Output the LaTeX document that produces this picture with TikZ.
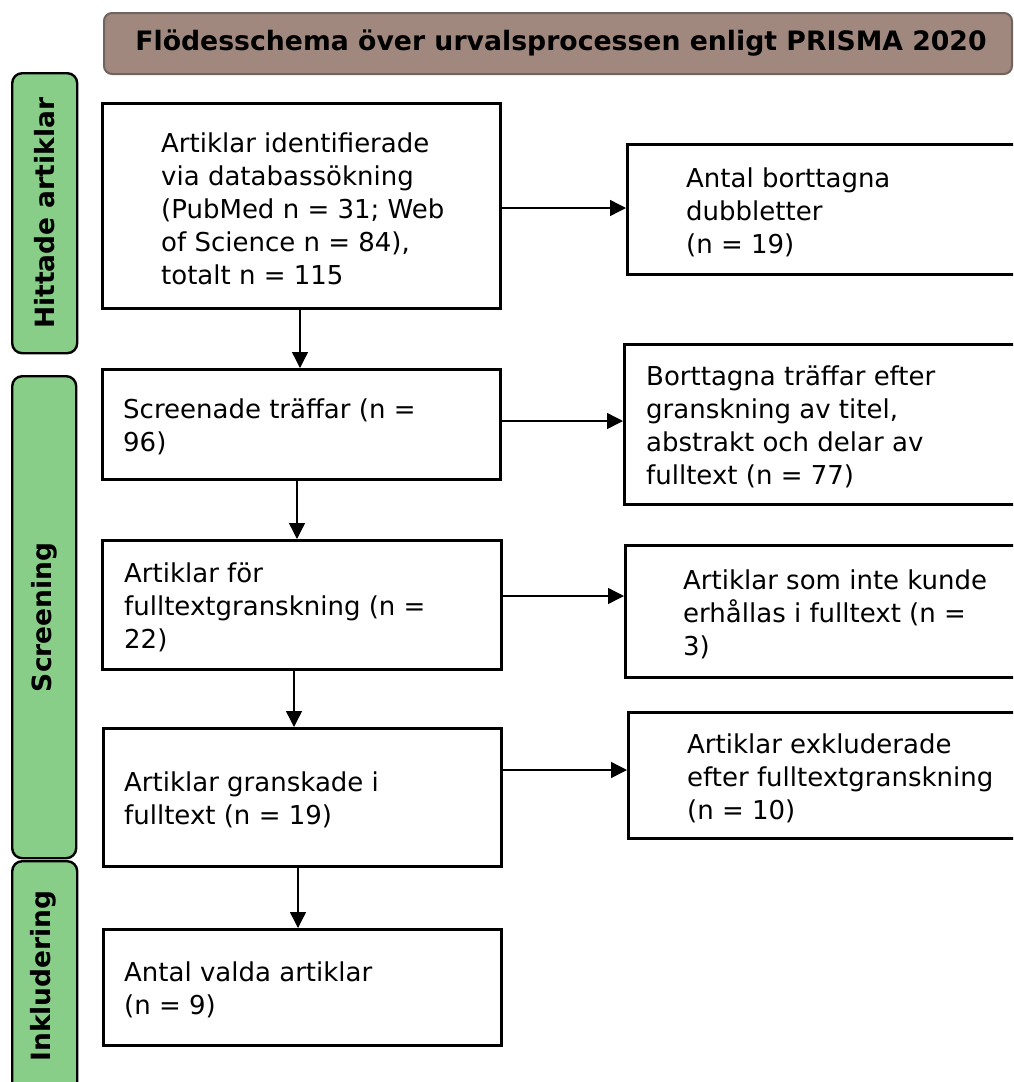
\documentclass[tikz,border=0pt]{standalone}
\usepackage{fontspec}
\setmainfont{DejaVu Sans}
\usetikzlibrary{arrows.meta}
\definecolor{greenbox}{RGB}{136,206,136}
\definecolor{titlebg}{RGB}{161,136,127}
\definecolor{titleline}{RGB}{112,100,96}
\tikzset{
 box/.style={draw=black, line width=2.6pt, fill=white, anchor=north west, inner sep=0pt},
 txt/.style={anchor=west, align=left, font=\fontsize{26}{33}\selectfont, inner sep=0pt},
 side/.style={draw=black, line width=2.4pt, fill=greenbox, rounded corners=10pt, anchor=north west, inner sep=0pt},
 sidetxt/.style={rotate=90, inner sep=0pt, font=\bfseries\fontsize{26.5}{30}\selectfont},
 arr/.style={line width=1.4pt, -{Triangle[length=16pt,width=16pt]}},
}
\begin{document}
\begin{tikzpicture}[x=1pt,y=-1pt]
\useasboundingbox (0,0) rectangle (1013,1082);
\clip (0,0) rectangle (1013,1082);
\fill[white] (0,0) rectangle (1013,1082);

% title
\node[draw=titleline, fill=titlebg, line width=2pt, rounded corners=8pt, minimum width=908pt, minimum height=61pt, anchor=north west, inner sep=0pt] (bar) at (103,12) {};
\node[inner sep=0pt, font=\bfseries\fontsize{26.7}{32}\selectfont] (title) at (561,43) {Flödesschema över urvalsprocessen enligt PRISMA 2020};

% side labels
\node[side, minimum width=65pt, minimum height=280pt] (s1) at (11,72) {};
\node[sidetxt] (s1t) at (s1.center) {Hittade artiklar};
\node[side, minimum width=64pt, minimum height=482pt] (s2) at (11,375) {};
\node[sidetxt] (s2t) at (s2.center) {Screening};
\node[side, minimum width=65pt, minimum height=240pt] (s3) at (11,860) {};
\node[sidetxt] (s3t) at (43.5,976) {Inkludering};

% left column
\node[box, minimum width=398pt, minimum height=205pt] (b1) at (101,102) {};
\node[txt] (t1) at ([xshift=60pt,yshift=-3pt]b1.west) {Artiklar identifierade\\via databassökning\\(PubMed n = 31; Web\\of Science n = 84),\\totalt n = 115};
\node[box, minimum width=398pt, minimum height=110pt] (b2) at (101,368) {};
\node[txt] (t2) at ([xshift=22pt,yshift=-3pt]b2.west) {Screenade träffar (n =\\96)};
\node[box, minimum width=399pt, minimum height=129pt] (b3) at (101,539) {};
\node[txt] (t3) at ([xshift=23pt,yshift=-3pt]b3.west) {Artiklar för\\fulltextgranskning (n =\\22)};
\node[box, minimum width=398pt, minimum height=138pt] (b4) at (102,727) {};
\node[txt] (t4) at ([xshift=22pt,yshift=-3pt]b4.west) {Artiklar granskade i\\fulltext (n = 19)};
\node[box, minimum width=398pt, minimum height=116pt] (b5) at (102,928) {};
\node[txt] (t5) at ([xshift=22pt,yshift=-3pt]b5.west) {Antal valda artiklar\\(n = 9)};

% right column
\node[box, minimum width=420pt, minimum height=130pt] (r1) at (626,143) {};
\node[txt] (u1) at ([xshift=60pt,yshift=-3pt]r1.west) {Antal borttagna\\dubbletter\\(n = 19)};
\node[box, minimum width=420pt, minimum height=160pt] (r2) at (623,343) {};
\node[txt] (u2) at ([xshift=23pt,yshift=-3pt]r2.west) {Borttagna träffar efter\\granskning av titel,\\abstrakt och delar av\\fulltext (n = 77)};
\node[box, minimum width=420pt, minimum height=132pt] (r3) at (624,544) {};
\node[txt] (u3) at ([xshift=59pt,yshift=-3pt]r3.west) {Artiklar som inte kunde\\erhållas i fulltext (n =\\3)};
\node[box, minimum width=420pt, minimum height=126pt] (r4) at (627,711) {};
\node[txt] (u4) at ([xshift=60pt,yshift=-3pt]r4.west) {Artiklar exkluderade\\efter fulltextgranskning\\(n = 10)};

% vertical arrows
\draw[arr] (b1.south -| 300,0) -- (b2.north -| 300,0);
\draw[arr] (b2.south -| 297,0) -- (b3.north -| 297,0);
\draw[arr] (b3.south -| 294,0) -- (b4.north -| 294,0);
\draw[arr] (b4.south -| 298,0) -- (b5.north -| 298,0);

% horizontal arrows
\draw[arr] (b1.east |- 0,208) -- (r1.west |- 0,208);
\draw[arr] (b2.east |- 0,421) -- (r2.west |- 0,421);
\draw[arr] (b3.east |- 0,596) -- (r3.west |- 0,596);
\draw[arr] (b4.east |- 0,770) -- (r4.west |- 0,770);
\end{tikzpicture}
\end{document}
